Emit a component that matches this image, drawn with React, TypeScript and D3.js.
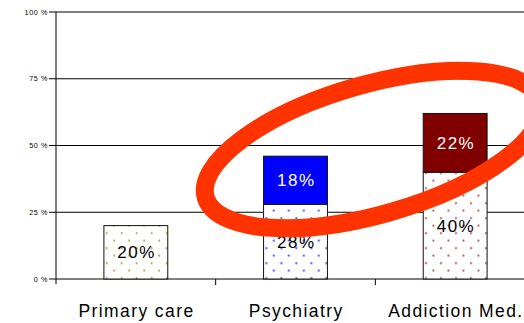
import React from "react";
import * as d3 from "d3";

// Share of patients by setting: dotted segment = base share, solid segment = added share
const categories = ["Primary care", "Psychiatry", "Addiction Med."];
const baseShare = [20, 28, 40];
const addedShare = [0, 18, 22];
const seriesColors = ["#9a9a2e", "#0000ff", "#800000"];
const dotColors = ["#9a9a2e", "#1f1fff", "#a03030"];
const yTicks = [0, 25, 50, 75, 100];
const yTickLabels = ["0 %", "25 %", "50 %", "75 %", "100 %"];

const W = 524;
const H = 323;
const left = 56;
const right = 535;
const top = 12;
const bottom = 279;

const FONT = "'Liberation Sans', Arial, Helvetica, sans-serif";

export default function App() {
  const x = d3
    .scaleBand<string>()
    .domain(categories)
    .range([left, right])
    .paddingInner(0.6)
    .paddingOuter(0.3);
  const y = d3.scaleLinear().domain([0, 100]).range([bottom, top]);

  const rows = categories.map((c, i) => ({
    cat: c,
    base: baseShare[i],
    added: addedShare[i],
  }));
  const stacked = d3.stack<any>().keys(["base", "added"])(rows);

  const step = x.step();
  const boundaries = d3.range(1, categories.length).map((i) => left + step * i);

  // highlight ellipse around the psychiatry / addiction stacks
  const ell = { cx: 373, cy: 149.5, rx: 174, ry: 65, angle: -16 };

  const tile = 15;

  return (
    <svg
      width={W}
      height={H}
      style={{ position: "absolute", left: 0, top: 0, background: "#fff" }}
    >
      <defs>
        {categories.map((c, i) => {
          const bx = x(c) as number;
          return (
            <pattern
              key={c}
              id={`dots-${i}`}
              patternUnits="userSpaceOnUse"
              width={tile}
              height={tile}
              x={bx - 1}
              y={bottom - 4.6}
            >
              <rect width={tile} height={tile} fill="#fff" />
              <circle cx={3.75} cy={3.75} r={1} fill={dotColors[i]} />
              <circle cx={3.75 + tile / 2} cy={3.75 + tile / 2} r={1} fill={dotColors[i]} />
            </pattern>
          );
        })}
      </defs>

      <rect x={0} y={0} width={W} height={H} fill="#fff" />

      {/* gridlines */}
      {yTicks.map((t) => (
        <line
          key={`g${t}`}
          x1={left}
          x2={right}
          y1={y(t)}
          y2={y(t)}
          stroke="#000"
          strokeWidth={1}
        />
      ))}

      {/* y axis */}
      <line x1={left} x2={left} y1={top} y2={bottom + 5} stroke="#000" />
      {yTicks.map((t, i) => (
        <g key={`t${t}`}>
          <line x1={left - 7} x2={left} y1={y(t)} y2={y(t)} stroke="#000" />
          <text
            x={left - 8}
            y={y(t)}
            dy="0.35em"
            textAnchor="end"
            fontFamily={FONT}
            fontSize={7.2}
            letterSpacing={0.6}
            fill="#000"
          >
            {yTickLabels[i]}
          </text>
        </g>
      ))}

      {/* x axis ticks between categories */}
      {boundaries.map((b) => (
        <line key={`b${b}`} x1={b} x2={b} y1={bottom} y2={bottom + 6} stroke="#000" />
      ))}

      {/* stacked bars */}
      {stacked.map((layer, li) =>
        layer.map((d, ci) => {
          const v = d[1] - d[0];
          if (v <= 0) return null;
          const bx = x(categories[ci]) as number;
          const y0 = y(d[0]);
          const y1 = y(d[1]);
          const fill = li === 0 ? `url(#dots-${ci})` : seriesColors[ci];
          return (
            <g key={`${li}-${ci}`}>
              <rect
                x={bx}
                y={y1}
                width={x.bandwidth()}
                height={y0 - y1}
                fill={fill}
                stroke="#111"
                strokeWidth={1}
              />
              <text
                x={bx + x.bandwidth() / 2 + 0.8}
                y={(y0 + y1) / 2}
                dy="0.36em"
                textAnchor="middle"
                fontFamily={FONT}
                fontSize={17}
                letterSpacing={1.5}
                fill={li === 0 ? "#000" : "#fff"}
              >
                {`${v}%`}
              </text>
            </g>
          );
        })
      )}

      {/* category labels */}
      {categories.map((c) => (
        <text
          key={c}
          x={(x(c) as number) + x.bandwidth() / 2 + 0.7}
          y={317}
          textAnchor="middle"
          fontFamily={FONT}
          fontSize={17.5}
          letterSpacing={1.4}
          fill="#000"
        >
          {c}
        </text>
      ))}

      {/* highlight ellipse */}
      <ellipse
        cx={ell.cx}
        cy={ell.cy}
        rx={ell.rx}
        ry={ell.ry}
        transform={`rotate(${ell.angle} ${ell.cx} ${ell.cy})`}
        fill="none"
        stroke="#ff3300"
        strokeWidth={18}
      />
    </svg>
  );
}
